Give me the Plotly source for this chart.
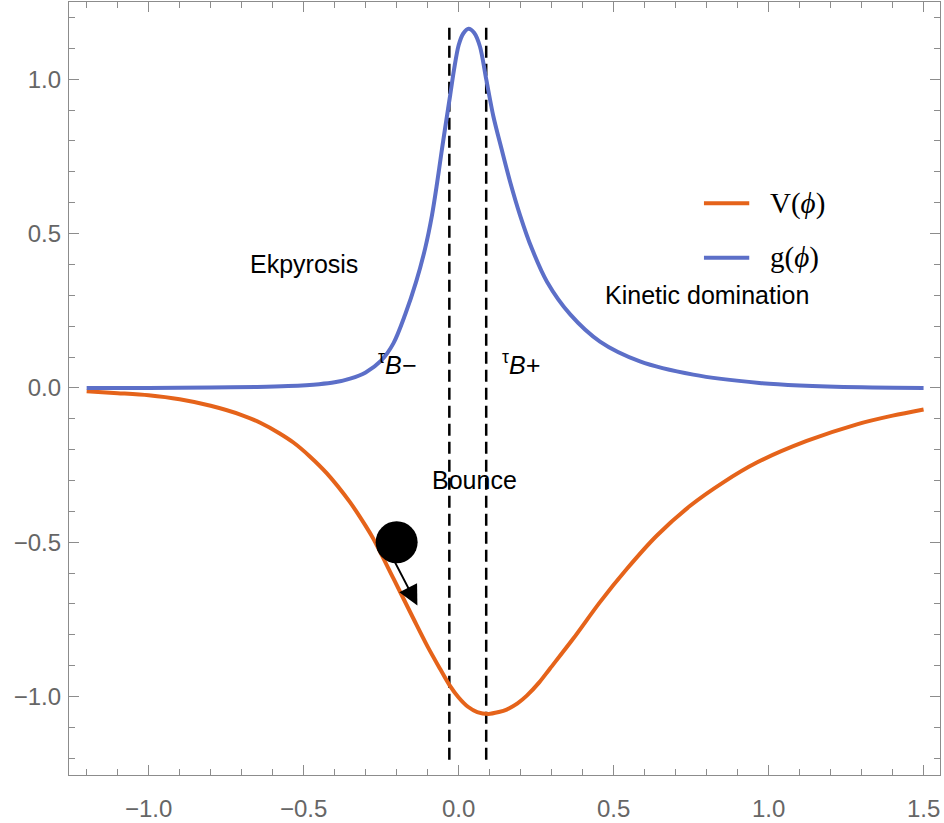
import plotly.graph_objects as go

# ---- data ----
g_x = [-1.2, -1.0, -0.8, -0.65, -0.55, -0.45, -0.4, -0.35, -0.3, -0.25, -0.21, -0.173, -0.137,
       -0.108, -0.086, -0.07, -0.055, -0.04, -0.027, -0.015, 0.0, 0.015, 0.032, 0.05, 0.069,
       0.089, 0.112, 0.139, 0.166, 0.198, 0.236, 0.285, 0.36, 0.456, 0.585, 0.757, 0.97,
       1.1, 1.3, 1.5]
g_y = [0.0, 0.0, 0.001, 0.003, 0.006, 0.012, 0.018, 0.03, 0.05, 0.088, 0.145, 0.236, 0.344,
       0.452, 0.559, 0.66, 0.765, 0.865, 0.95, 1.03, 1.11, 1.148, 1.163, 1.15, 1.105,
       1.0, 0.88, 0.772, 0.668, 0.56, 0.452, 0.344, 0.238, 0.15, 0.086, 0.043, 0.016,
       0.008, 0.002, 0.0]

v_x = [-1.2, -1.1, -1.0, -0.9, -0.8, -0.7, -0.64, -0.58, -0.533, -0.48, -0.425, -0.35, -0.3,
       -0.275, -0.21, -0.146, -0.1, -0.06, -0.03, 0.0, 0.03, 0.06, 0.096, 0.13, 0.155, 0.19,
       0.22, 0.26, 0.295, 0.37, 0.456, 0.543, 0.639, 0.747, 0.854, 0.962, 1.123, 1.285, 1.4, 1.5]
v_y = [-0.011, -0.017, -0.024, -0.037, -0.058, -0.088, -0.113, -0.146, -0.177, -0.222, -0.277,
       -0.371, -0.447, -0.489, -0.618, -0.747, -0.838, -0.91, -0.962, -1.003, -1.033, -1.05,
       -1.056, -1.05, -1.042, -1.022, -0.997, -0.954, -0.909, -0.812, -0.694, -0.586, -0.479,
       -0.382, -0.306, -0.242, -0.172, -0.118, -0.09, -0.07]

bounce_x = [-0.03, 0.089]
bounce_y_span = [-1.205, 1.185]

ball_x = [-0.2]
ball_y = [-0.5]
arrow_tail = (-0.211, -0.554)
arrow_tip = (-0.133, -0.705)

labels = [("Ekpyrosis", -0.5, 0.4), ("Kinetic domination", 0.8, 0.3), ("Bounce", 0.05, -0.3)]
tau_labels = [("<sup>τ</sup><i>B−</i>", -0.2, 0.08), ("<sup>τ</sup><i>B+</i>", 0.2, 0.08)]

x_ticks = [-1.0, -0.5, 0.0, 0.5, 1.0, 1.5]
y_ticks = [-1.0, -0.5, 0.0, 0.5, 1.0]

ORANGE = "#e5631a"
BLUE = "#5c6fc8"
AXIS = "#8c8c8c"
TICKTXT = "#666666"

fig = go.Figure()

for bx in bounce_x:
    fig.add_trace(go.Scatter(x=[bx, bx], y=bounce_y_span, mode="lines",
                             line=dict(color="black", width=2.5, dash="12px,6px"),
                             showlegend=False, hoverinfo="skip"))

fig.add_trace(go.Scatter(x=v_x, y=v_y, mode="lines", name="V(ϕ)",
                         line=dict(color=ORANGE, width=4, shape="spline", smoothing=0.85),
                         showlegend=False))
fig.add_trace(go.Scatter(x=g_x, y=g_y, mode="lines", name="g(ϕ)",
                         line=dict(color=BLUE, width=4, shape="spline", smoothing=0.85),
                         showlegend=False))

fig.add_trace(go.Scatter(x=ball_x, y=ball_y, mode="markers",
                         marker=dict(color="black", size=42, line=dict(width=0)),
                         showlegend=False))

fig.add_annotation(x=arrow_tip[0], y=arrow_tip[1], ax=arrow_tail[0], ay=arrow_tail[1],
                   xref="x", yref="y", axref="x", ayref="y", text="",
                   showarrow=True, arrowhead=2, arrowsize=2.0, arrowwidth=2,
                   arrowcolor="black", standoff=0, startstandoff=0)

for txt, x, y in labels:
    fig.add_annotation(x=x, y=y, text=txt, showarrow=False, xref="x", yref="y",
                       font=dict(family="Liberation Sans, Arial", size=25, color="black"))
for txt, x, y in tau_labels:
    fig.add_annotation(x=x, y=y, text=txt, showarrow=False, xref="x", yref="y",
                       font=dict(family="Liberation Sans, Arial", size=25, color="black"))

# manual legend
leg = [("V(<i>ϕ</i>)", ORANGE, 0.7397), ("g(<i>ϕ</i>)", BLUE, 0.669)]
for txt, col, yy in leg:
    fig.add_shape(type="line", xref="paper", yref="paper", x0=0.729, x1=0.781, y0=yy, y1=yy,
                  line=dict(color=col, width=4))
    fig.add_annotation(xref="paper", yref="paper", x=0.802, y=yy, xanchor="left", yanchor="middle",
                       text=txt, showarrow=False,
                       font=dict(family="Liberation Serif, Times New Roman", size=29, color="black"))

axis_common = dict(showline=True, linecolor=AXIS, linewidth=1.3, mirror="allticks",
                   ticks="inside", ticklen=10, tickwidth=1.3, tickcolor=AXIS,
                   showgrid=False, zeroline=False,
                   tickfont=dict(family="Liberation Sans, Arial", size=24, color=TICKTXT),
                   tickformat=".1f",
                   minor=dict(ticks="inside", ticklen=6, tickwidth=1.1, tickcolor=AXIS,
                              dtick=0.1, tick0=0, showgrid=False))

fig.update_xaxes(range=[-1.257, 1.553], tickvals=x_ticks, ticklabelstandoff=12, **axis_common)
fig.update_yaxes(range=[-1.254, 1.25], tickvals=y_ticks, ticklabelstandoff=2, **axis_common)

fig.update_layout(width=944, height=823, margin=dict(l=69, r=4, t=1, b=46),
                  plot_bgcolor="white", paper_bgcolor="white", showlegend=False)

fig.write_html("out.html", config={"displayModeBar": False},
               post_script="document.body.style.margin='0';document.body.style.overflow='hidden';")
